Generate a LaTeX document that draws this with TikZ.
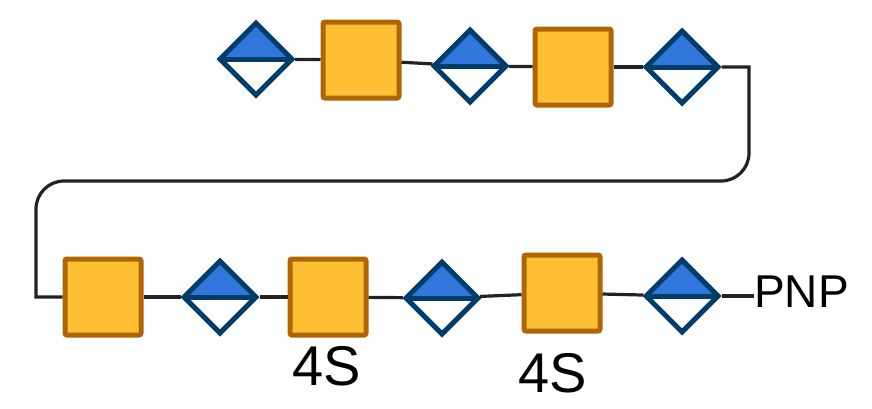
\documentclass[tikz,border=0pt]{standalone}
\usepackage{fontspec}
\setmainfont{Liberation Sans}
\usepackage{tikz}
\usetikzlibrary{shapes.geometric}

\definecolor{galblue}{RGB}{49,118,218}
\definecolor{galedge}{RGB}{0,61,107}
\definecolor{glcyellow}{RGB}{253,191,52}
\definecolor{glcedge}{RGB}{176,101,0}
\definecolor{bond}{RGB}{34,34,34}

\tikzset{
	sq/.style={draw=glcedge, fill=glcyellow, line width=5pt, minimum size=76pt, inner sep=0pt, rounded corners=2pt},
	dia/.style={diamond, aspect=1, draw=galedge, fill=white, line width=5pt, minimum size=74pt, inner sep=0pt,
		path picture={
			\fill[galblue] (path picture bounding box.west) -- (path picture bounding box.north) -- (path picture bounding box.east) -- cycle;
			\draw[galedge, line width=5pt] (path picture bounding box.west) -- (path picture bounding box.east);
		}},
	bondline/.style={draw=bond, line width=3.2pt},
	lbl/.style={inner sep=0pt, font=\fontsize{56}{60}\selectfont}
}

\begin{document}
\begin{tikzpicture}[x=1pt, y=-1pt]
	\useasboundingbox (0,0) rectangle (872,408);
	% top row
	\node[dia] (t1) at (256,59) {};
	\node[sq]  (t2) at (361,60) {};
	\node[dia] (t3) at (470,66) {};
	\node[sq]  (t4) at (573,67) {};
	\node[dia] (t5) at (682,67) {};
	% bottom row
	\node[sq]  (b1) at (103,297) {};
	\node[dia] (b2) at (220,297) {};
	\node[sq]  (b3) at (328,297) {};
	\node[dia] (b4) at (442,298) {};
	\node[sq]  (b5) at (562,293) {};
	\node[dia] (b6) at (682,296) {};
	\node[inner sep=0pt, anchor=base west, font=\fontsize{46}{50}\selectfont] (pnp) at (754,307) {PNP};
	\node[lbl, anchor=base] (s3) at (327,385) {4S};
	\node[lbl, anchor=base] (s5) at (553,392) {4S};

	\path[bondline]
	(t1) edge (t2)
	(t2) edge (t3)
	(t3) edge (t4)
	(t4) edge (t5)
	(b1) edge (b2)
	(b2) edge (b3)
	(b3) edge (b4)
	(b4) edge (b5)
	(b5) edge (b6)
	(b6.east) edge (b6.east -| pnp.west)
	;
	\draw[bondline] (t5.east) -- (749,67) [rounded corners=28pt] -- (749,181) -- (36,181) [sharp corners] -- (36,297) -- (b1.west);
\end{tikzpicture}
\end{document}
